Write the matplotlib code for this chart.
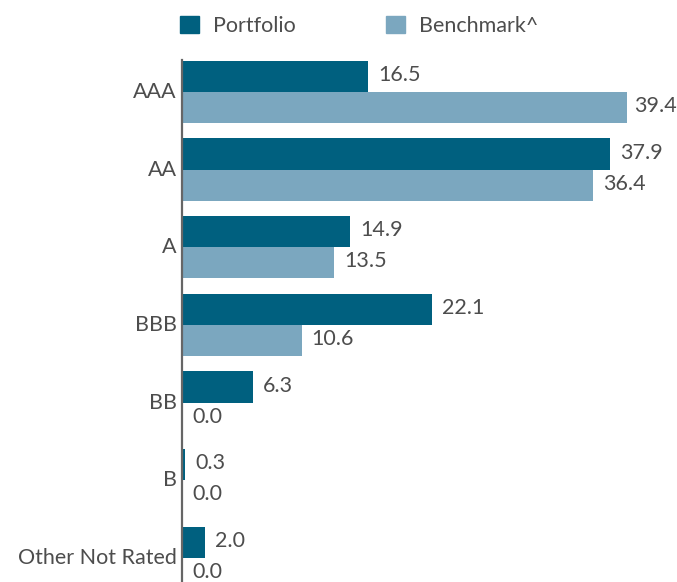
import numpy as np
import matplotlib
matplotlib.use("Agg")
import matplotlib.pyplot as plt
import matplotlib.patches as mpatches

plt.rcParams["font.family"] = ["Lato", "DejaVu Sans"]

categories = ["AAA", "AA", "A", "BBB", "BB", "B", "Other Not Rated"]
portfolio = [16.5, 37.9, 14.9, 22.1, 6.3, 0.3, 2.0]
benchmark = [39.4, 36.4, 13.5, 10.6, 0.0, 0.0, 0.0]
series_names = ["Portfolio", "Benchmark^"]

c_port = "#00607f"
c_bench = "#7ba7bf"
c_text = "#4d4d4d"
fs = 15.5

fig = plt.figure(figsize=(6.77, 5.82), dpi=100)
# axes: linke Kante bei x=182 px, oben 60 px, unten Bildrand
ax = fig.add_axes([182 / 677, 0.0, 1 - 182 / 677, (582 - 60) / 582])

y = np.arange(len(categories))
h = 0.4
ax.barh(y - h / 2, portfolio, height=h, color=c_port, label=series_names[0])
ax.barh(y + h / 2, benchmark, height=h, color=c_bench, label=series_names[1])

xmax = (677 - 182) / 11.29


def value_label(v, yy):
    # am rechten Rand etwas enger, damit die Zahl ins Bild passt
    dx = 5.0 if v > xmax - 5 else 7.2
    ax.annotate(f"{v:.1f}", (v, yy), xytext=(dx, 1), textcoords="offset points",
                va="center", ha="left", fontsize=fs, color=c_text)


for yi, p, b in zip(y, portfolio, benchmark):
    value_label(p, yi - h / 2)
    value_label(b, yi + h / 2)

# Kategorie-Labels als Text (Position genauer steuerbar als Ticklabels)
for yi, cat in zip(y, categories):
    ax.annotate(cat, (0, yi), xycoords=("axes fraction", "data"), xytext=(-3.8, 0),
                textcoords="offset points", va="center", ha="right",
                fontsize=fs, color=c_text, annotation_clip=False)

ax.set_xlim(0, xmax)
ax.set_ylim(6.31, -0.41)
ax.set_yticks([])
ax.set_xticks([])
for s in ["top", "right", "bottom"]:
    ax.spines[s].set_visible(False)
ax.spines["left"].set_color("#666666")
ax.spines["left"].set_linewidth(1.6)

handles = [mpatches.Patch(color=c_port), mpatches.Patch(color=c_bench)]
fig.legend(handles, series_names, loc="center left", bbox_to_anchor=(161 / 677, 1 - 26 / 582),
           ncol=2, frameon=False, fontsize=fs, handlelength=0.88, handleheight=0.88,
           handletextpad=0.65, columnspacing=4.2, labelcolor=c_text)

fig.savefig("out.png", dpi=100)
